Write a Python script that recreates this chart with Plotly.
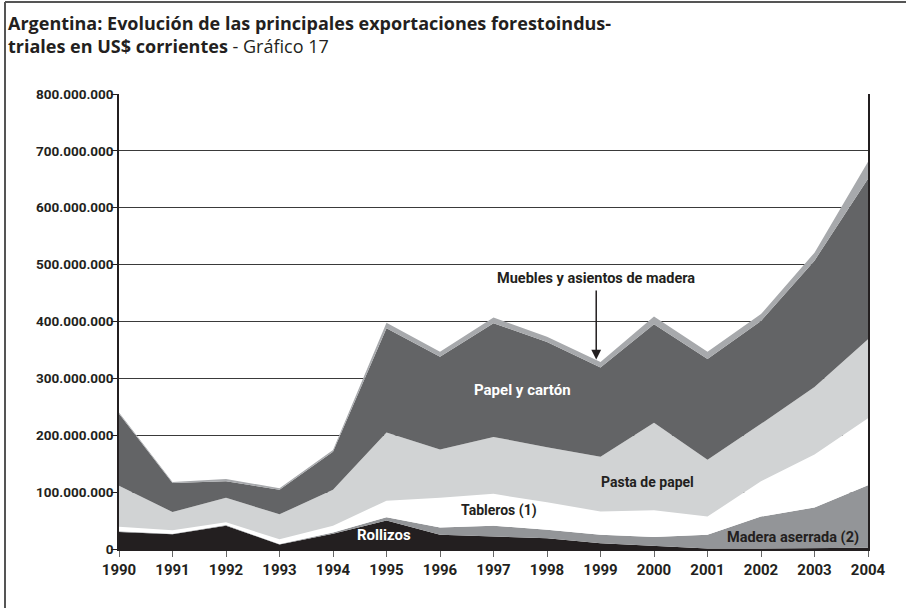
import plotly.graph_objects as go

# Years and exports per product (millions of US$)
years = list(range(1990, 2005))
rollizos = [30, 26, 41, 8, 27, 50, 25, 22, 19, 10, 5, 1, 1, 1, 2]
madera_aserrada = [1, 1, 1, 1, 2, 6, 13, 19, 15, 15, 16, 24, 56, 72, 110]
tableros = [8, 6, 5, 8, 12, 29, 52, 56, 48, 41, 47, 32, 62, 93, 118]
pasta_papel = [72, 32, 43, 44, 63, 120, 85, 100, 97, 96, 154, 100, 101, 119, 139]
papel_carton = [127, 51, 29, 43, 67, 183, 163, 200, 185, 157, 173, 177, 181, 222, 282]
muebles = [2, 2, 4, 3, 3, 10, 9, 10, 9, 10, 14, 13, 12, 14, 30]

y_tickvals = [0, 100e6, 200e6, 300e6, 400e6, 500e6, 600e6, 700e6, 800e6]
y_ticktext = ["0", "100.000.000", "200.000.000", "300.000.000", "400.000.000",
              "500.000.000", "600.000.000", "700.000.000", "800.000.000"]

series = [
    ("Rollizos", rollizos, "#231f20"),
    ("Madera aserrada (2)", madera_aserrada, "#939598"),
    ("Tableros (1)", tableros, "#ffffff"),
    ("Pasta de papel", pasta_papel, "#d1d3d4"),
    ("Papel y cartón", papel_carton, "#636466"),
    ("Muebles y asientos de madera", muebles, "#a7a9ac"),
]

FONT = "Roboto, Liberation Sans, sans-serif"
TITLE_FONT = "Open Sans, Roboto, sans-serif"
INK = "#231f20"

fig = go.Figure()
for name, vals, color in series:
    fig.add_trace(go.Scatter(
        x=years,
        y=[v * 1e6 for v in vals],
        name=name,
        mode="lines",
        stackgroup="one",
        line=dict(width=0, color=color),
        fillcolor=color,
        hoverinfo="x+y+name",
    ))

# pixel layout: plot area 119..868 x 94..549
L, R, T, B = 119, 38, 94, 59
PW, PH = 906 - L - R, 608 - T - B


def px(x):
    return (x - L) / PW


def py(y):
    return (608 - B - y) / PH


annotations = [
    dict(text="Argentina: Evolución de las principales exportaciones forestoindus-",
         x=px(6), y=py(23), font=dict(size=18, color=INK, weight="bold", family=TITLE_FONT)),
    dict(text="<b>triales en US$ corrientes</b><span style='font-weight:normal'> - Gráfico 17</span>",
         x=px(6), y=py(46), font=dict(size=18, color=INK, family=TITLE_FONT)),
]
for a in annotations:
    a.update(xref="paper", yref="paper", xanchor="left", yanchor="middle",
             showarrow=False)

labels = [
    ("Papel y cartón", 1997.55, 279e6, "white", 15),
    ("Pasta de papel", 1999.87, 118e6, INK, 14),
    ("Tableros (1)", 1997.1, 67e6, INK, 14),
    ("Rollizos", 1994.95, 25e6, "white", 15),
    ("Madera aserrada (2)", 2002.6, 21e6, INK, 14.5),
    ("Muebles y asientos de madera", 1998.92, 476e6, INK, 14.5),
]
for text, x, y, c, s in labels:
    annotations.append(dict(text=text, x=x, y=y, xref="x", yref="y", showarrow=False,
                            font=dict(size=s, color=c, weight="bold")))

annotations.append(dict(text="", x=1998.92, y=333e6, ax=1998.92, ay=457e6,
                        xref="x", yref="y", axref="x", ayref="y",
                        showarrow=True, arrowhead=2, arrowsize=1.3, arrowwidth=1.5,
                        arrowcolor=INK))

shapes = [
    dict(type="line", xref="paper", yref="paper", x0=px(5), x1=px(5), y0=py(2), y1=py(612),
         line=dict(color="#555", width=2)),
    dict(type="line", xref="paper", yref="paper", x0=px(5), x1=px(912), y0=py(2), y1=py(2),
         line=dict(color="#555", width=2)),
]

fig.update_layout(
    width=906, height=608,
    margin=dict(l=L, r=R, t=T, b=B),
    paper_bgcolor="white", plot_bgcolor="white",
    showlegend=False,
    font=dict(family=FONT, color=INK),
    annotations=annotations,
    shapes=shapes,
    xaxis=dict(range=[1990, 2004], tickvals=years, ticks="outside", ticklen=6,
               tickcolor="#666", showgrid=False, showline=True, linecolor=INK,
               linewidth=1.5, zeroline=False,
               tickfont=dict(size=15, weight="bold")),
    yaxis=dict(range=[0, 800e6], tickvals=y_tickvals, ticktext=y_ticktext,
               ticks="outside", ticklen=6, tickcolor=INK, showgrid=True,
               gridcolor="#3a3a3a", gridwidth=1, showline=True, linecolor=INK,
               linewidth=1.5, mirror=True, zeroline=False, ticklabelstandoff=-5,
               tickfont=dict(size=13.5, weight="bold")),
)

# the page has a default body margin; remove it so the figure sits at 0,0
fig.write_html("out.html", config={"displayModeBar": False},
               post_script="document.body.style.margin='0';")
